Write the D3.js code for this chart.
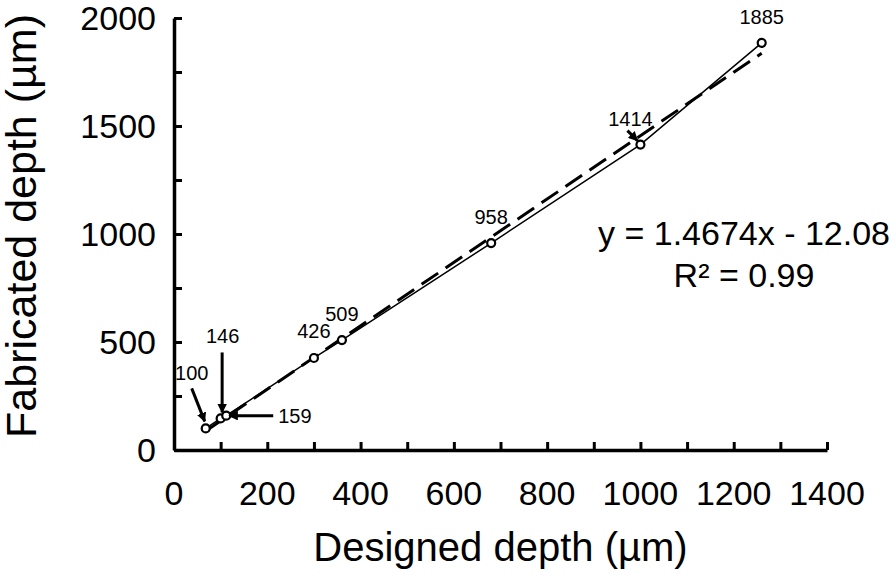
<!DOCTYPE html>
<html>
<head>
<meta charset="utf-8">
<script src="https://cdn.jsdelivr.net/npm/d3@7"></script>
<style>
  body { margin: 0; background: #fff; }
  text { font-family: "Liberation Sans", Arial, sans-serif; fill: #000; }
</style>
</head>
<body>
<div id="chart"></div>
<script>
// data
const designed = [68, 100, 112, 300, 360, 680, 1000, 1260];
const fabricated = [100, 146, 159, 426, 509, 958, 1414, 1885];
const xTickValues = [0, 200, 400, 600, 800, 1000, 1200, 1400];
const yTickValues = [0, 500, 1000, 1500, 2000];
const slope = 1.4674;
const intercept = -12.08;
const equationText = "y = 1.4674x - 12.08";
const r2Text = "R² = 0.99";

// label placement (pixel offsets from each point)
const labelOffsets = [
  { dx: -14, dy: -48, anchor: "middle", arrow: [[-14, -40], [-1, -7]] },
  { dx: 2, dy: -75, anchor: "middle", arrow: [[1.5, -66], [1.5, -6]] },
  { dx: 52, dy: 7, anchor: "start", arrow: [[47, 0], [3, 0]] },
  { dx: 0, dy: -20, anchor: "middle" },
  { dx: 0, dy: -19, anchor: "middle" },
  { dx: 0, dy: -19, anchor: "middle" },
  { dx: -10, dy: -19, anchor: "middle", arrow: [[-13, -14], [-3, -4]] },
  { dx: 0, dy: -19, anchor: "middle" }
];

const width = 896;
const height = 576;
const margin = { top: 18, right: 69, bottom: 126, left: 174 };
const innerWidth = width - margin.left - margin.right;
const innerHeight = height - margin.top - margin.bottom;

const svg = d3.select("#chart")
  .append("svg")
  .attr("width", width)
  .attr("height", height);

svg.append("defs").append("marker")
  .attr("id", "arrow")
  .attr("viewBox", "0 0 10 10")
  .attr("refX", 9)
  .attr("refY", 5)
  .attr("markerWidth", 3.2)
  .attr("markerHeight", 3.2)
  .attr("orient", "auto")
  .append("path")
  .attr("d", "M0,0 L10,5 L0,10 z")
  .attr("fill", "#000");

const g = svg.append("g").attr("transform", `translate(${margin.left},${margin.top})`);

const x = d3.scaleLinear().domain([0, 1400]).range([0, innerWidth]);
const y = d3.scaleLinear().domain([0, 2000]).range([innerHeight, 0]);

// axes: ticks point inwards, labels drawn separately
const xAxis = g.append("g")
  .attr("transform", `translate(0,${innerHeight})`)
  .call(d3.axisBottom(x).tickValues(d3.range(0, 1401, 100)).tickSize(-8).tickSizeOuter(0));
const yAxis = g.append("g")
  .call(d3.axisLeft(y).tickValues(d3.range(0, 2001, 250)).tickSize(-8).tickSizeOuter(0));

[xAxis, yAxis].forEach(a => {
  a.selectAll(".tick text").remove();
  a.select(".domain").attr("stroke", "#000").attr("stroke-width", 3.5);
  a.selectAll(".tick line").attr("stroke", "#000").attr("stroke-width", 3);
});

g.selectAll(".xlab")
  .data(xTickValues)
  .join("text")
  .attr("class", "xlab")
  .attr("x", d => x(d))
  .attr("y", innerHeight + 55)
  .attr("text-anchor", "middle")
  .attr("font-size", 34)
  .text(d => d);

g.selectAll(".ylab")
  .data(yTickValues)
  .join("text")
  .attr("class", "ylab")
  .attr("x", -18)
  .attr("y", d => y(d))
  .attr("dy", "0.36em")
  .attr("text-anchor", "end")
  .attr("font-size", 34)
  .text(d => d);

svg.append("text")
  .attr("x", margin.left + innerWidth / 2)
  .attr("y", 561)
  .attr("text-anchor", "middle")
  .attr("font-size", 40)
  .text("Designed depth (µm)");

svg.append("text")
  .attr("transform", "translate(36,226) rotate(-90)")
  .attr("text-anchor", "middle")
  .attr("font-size", 43)
  .text("Fabricated depth (µm)");

const points = designed.map((d, i) => ({ x: d, y: fabricated[i], o: labelOffsets[i] }));

// linear trend line
const xMin = d3.min(designed), xMax = d3.max(designed);
g.append("line")
  .attr("x1", x(xMin)).attr("y1", y(slope * xMin + intercept))
  .attr("x2", x(xMax)).attr("y2", y(slope * xMax + intercept))
  .attr("stroke", "#000")
  .attr("stroke-width", 3)
  .attr("stroke-dasharray", "20,9");

const line = d3.line().x(d => x(d.x)).y(d => y(d.y));
g.append("path")
  .datum(points)
  .attr("fill", "none")
  .attr("stroke", "#000")
  .attr("stroke-width", 1.5)
  .attr("d", line);

g.selectAll(".pt")
  .data(points)
  .join("circle")
  .attr("class", "pt")
  .attr("cx", d => x(d.x))
  .attr("cy", d => y(d.y))
  .attr("r", 4)
  .attr("fill", "#fff")
  .attr("stroke", "#000")
  .attr("stroke-width", 2.2);

g.selectAll(".arr")
  .data(points.filter(d => d.o.arrow))
  .join("line")
  .attr("class", "arr")
  .attr("x1", d => x(d.x) + d.o.arrow[0][0])
  .attr("y1", d => y(d.y) + d.o.arrow[0][1])
  .attr("x2", d => x(d.x) + d.o.arrow[1][0])
  .attr("y2", d => y(d.y) + d.o.arrow[1][1])
  .attr("stroke", "#000")
  .attr("stroke-width", 3)
  .attr("marker-end", "url(#arrow)");

g.selectAll(".vlab")
  .data(points)
  .join("text")
  .attr("class", "vlab")
  .attr("x", d => x(d.x) + d.o.dx)
  .attr("y", d => y(d.y) + d.o.dy)
  .attr("text-anchor", d => d.o.anchor)
  .attr("font-size", 20)
  .text(d => d.y);

svg.append("text")
  .attr("x", 744)
  .attr("y", 245)
  .attr("text-anchor", "middle")
  .attr("font-size", 34)
  .text(equationText);
svg.append("text")
  .attr("x", 744)
  .attr("y", 287)
  .attr("text-anchor", "middle")
  .attr("font-size", 34)
  .text(r2Text);
</script>
</body>
</html>
